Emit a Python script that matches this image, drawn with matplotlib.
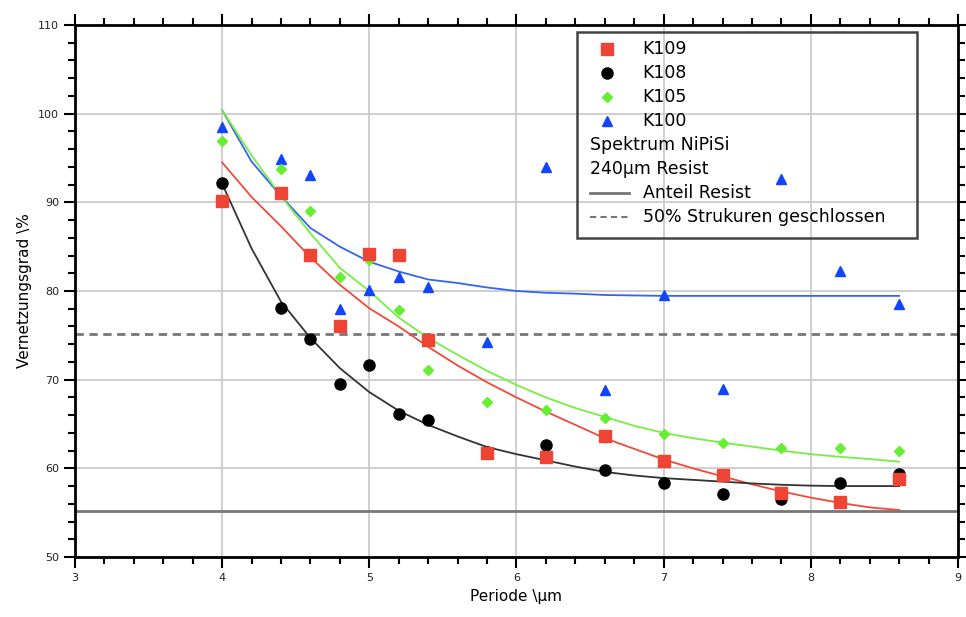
import matplotlib
matplotlib.use('Agg')
import matplotlib.pyplot as plt
from matplotlib.ticker import MultipleLocator
from matplotlib.patches import Rectangle

# Periode in um
periode = [4.0, 4.4, 4.6, 4.8, 5.0, 5.2, 5.4, 5.8, 6.2, 6.6, 7.0, 7.4, 7.8, 8.2, 8.6]

# Messwerte Vernetzungsgrad in %
k109 = [90.2, 91.1, 84.1, 76.1, 84.2, 84.1, 74.5, 61.7, 61.3, 63.6, 60.8, 59.2, 57.2, 56.2, 58.8]
k108 = [92.2, 78.1, 74.6, 69.5, 71.6, 66.1, 65.5, 61.8, 62.6, 59.8, 58.3, 57.1, 56.6, 58.3, 59.4]
k105 = [96.9, 93.8, 89.0, 81.6, 83.5, 77.9, 71.1, 67.5, 66.6, 65.7, 63.9, 62.9, 62.3, 62.3, 62.0]
k100 = [98.5, 94.9, 93.1, 78.0, 80.1, 81.6, 80.5, 74.3, 94.0, 68.8, 79.5, 68.9, 92.6, 82.3, 78.5]

# Fitkurven
fit_x = [4.0, 4.2, 4.4, 4.6, 4.8, 5.0, 5.2, 5.4, 5.6, 5.8, 6.0, 6.2,
         6.4, 6.6, 6.8, 7.0, 7.2, 7.4, 7.6, 7.8, 8.0, 8.2, 8.4, 8.6]
fit_k109 = [94.5, 90.6, 87.3, 83.8, 80.7, 78.05, 76.0, 73.7, 71.6, 69.7, 68.0, 66.4,
            64.9, 63.4, 62.2, 61.0, 60.0, 59.1, 58.2, 57.4, 56.7, 56.1, 55.6, 55.3]
fit_k108 = [92.1, 84.8, 78.8, 74.7, 71.3, 68.6, 66.5, 64.9, 63.6, 62.4, 61.6, 60.9,
            60.2, 59.6, 59.2, 58.9, 58.7, 58.5, 58.3, 58.15, 58.05, 58.0, 58.0, 58.0]
fit_k105 = [100.4, 95.3, 90.7, 86.5, 82.6, 80.0, 77.0, 74.7, 72.8, 71.0, 69.4, 68.0,
            66.8, 65.8, 64.8, 64.0, 63.4, 62.9, 62.45, 62.0, 61.6, 61.3, 61.05, 60.75]
fit_k100 = [100.4, 94.6, 90.7, 87.1, 85.0, 83.3, 82.2, 81.3, 80.9, 80.4, 80.0, 79.8,
            79.7, 79.55, 79.5, 79.45, 79.45, 79.45, 79.45, 79.45, 79.45, 79.45, 79.45, 79.45]

anteil_resist = 55.2
strukturen_50 = 75.2

RED = '#ee4433'
BLACK = '#000000'
GREEN = '#66ee33'
BLUE = '#1144ff'

fig = plt.figure(figsize=(9.66, 6.17), dpi=100)
ax = fig.add_axes([0.0776, 0.0972, 0.9141, 0.8623])

ax.axhline(anteil_resist, color='#777777', lw=2, zorder=2)
ax.axhline(strukturen_50, color='#777777', lw=2, ls=(0, (3, 2)), zorder=2)

ax.plot(fit_x, fit_k100, color='#3366ee', lw=1.3, zorder=3)
ax.plot(fit_x, fit_k105, color='#77ee44', lw=1.3, zorder=3)
ax.plot(fit_x, fit_k109, color='#f04a3a', lw=1.3, zorder=3)
ax.plot(fit_x, fit_k108, color='#333333', lw=1.3, zorder=3)

ax.plot(periode, k100, '^', color=BLUE, ms=7, zorder=4)
ax.plot(periode, k105, 'D', color=GREEN, ms=5, zorder=4)
ax.plot(periode, k108, 'o', color=BLACK, ms=8, zorder=4)
ax.plot(periode, k109, 's', color=RED, ms=9, zorder=5)

ax.set_xlim(3, 9)
ax.set_ylim(50, 110)
ax.xaxis.set_major_locator(MultipleLocator(1))
ax.xaxis.set_minor_locator(MultipleLocator(0.2))
ax.yaxis.set_major_locator(MultipleLocator(10))
ax.yaxis.set_minor_locator(MultipleLocator(2))
ax.tick_params(which='both', direction='out', top=True, right=True,
               width=1.5, labelsize=8, labelcolor='#222222')
ax.tick_params(which='major', length=8)
ax.tick_params(which='minor', length=5)
for s in ax.spines.values():
    s.set_linewidth(2)
ax.grid(which='major', color='#cccccc', lw=1.3)
ax.set_axisbelow(True)

ax.set_xlabel('Periode \\µm', fontsize=11)
ax.set_ylabel('Vernetzungsgrad \\%', fontsize=11)

# Legende von Hand, damit die reinen Textzeilen links buendig stehen
lx0, ly0, lx1, ly1 = 0.5685, 0.5996, 0.9535, 0.987
ax.add_patch(Rectangle((lx0, ly0), lx1 - lx0, ly1 - ly0, transform=ax.transAxes,
                       fill=False, edgecolor='#444444', lw=1.8, zorder=6))
row_h = 0.0451
y_first = 0.955
mx = 0.6025
tx = 0.643
line_x = [0.583, 0.627]
fs = 12.5
entries = [('K109', 's', RED, 9), ('K108', 'o', BLACK, 8),
           ('K105', 'D', GREEN, 5), ('K100', '^', BLUE, 7)]
for i, (lab, m, c, ms) in enumerate(entries):
    yy = y_first - i * row_h
    ax.plot([mx], [yy], m, color=c, ms=ms, transform=ax.transAxes, zorder=7, clip_on=False)
    ax.text(tx, yy, lab, transform=ax.transAxes, fontsize=fs, va='center', zorder=7)
ax.text(0.5835, y_first - 4 * row_h, 'Spektrum NiPiSi', transform=ax.transAxes,
        fontsize=fs, va='center', zorder=7)
ax.text(0.5835, y_first - 5 * row_h, '240µm Resist', transform=ax.transAxes,
        fontsize=fs, va='center', zorder=7)
yy = y_first - 6 * row_h
ax.plot(line_x, [yy, yy], color='#777777', lw=2, transform=ax.transAxes, zorder=7)
ax.text(tx, yy, 'Anteil Resist', transform=ax.transAxes, fontsize=fs, va='center', zorder=7)
yy = y_first - 7 * row_h
ax.plot(line_x, [yy, yy], color='#777777', lw=1.5, ls=(0, (3, 2)), transform=ax.transAxes, zorder=7)
ax.text(tx, yy, '50% Strukuren geschlossen', transform=ax.transAxes, fontsize=fs,
        va='center', zorder=7)

fig.savefig('out.png', dpi=100)
